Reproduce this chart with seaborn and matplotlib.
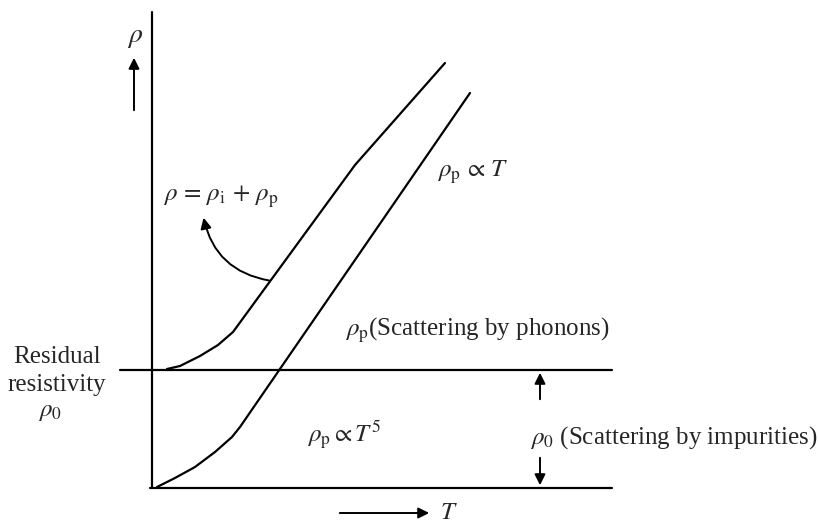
import pandas as pd
import seaborn as sns
import matplotlib.pyplot as plt

# resistivity vs temperature (arbitrary units)
T_total = [1.5, 2.8, 4.8, 6.6, 8.1, 20.3, 29.3]
rho_total = [11.9, 12.2, 13.2, 14.3, 15.6, 32.3, 42.5]

T_phonon = [0.5, 2.3, 4.3, 6.3, 8.0, 8.8, 31.8]
rho_phonon = [0.1, 1.0, 2.1, 3.6, 5.1, 6.1, 39.5]

rho0 = 11.8
T_max = 46.0
rho_top = 47.6

sns.set_style('white')
plt.rcParams['font.family'] = ['Liberation Serif', 'DejaVu Serif']
plt.rcParams['mathtext.fontset'] = 'stix'

fig = plt.figure(figsize=(8.18, 5.28), dpi=100)
ax = fig.add_axes([0, 0, 1, 1])

df_total = pd.DataFrame({'T': T_total, 'rho': rho_total})
df_phonon = pd.DataFrame({'T': T_phonon, 'rho': rho_phonon})
sns.lineplot(data=df_total, x='T', y='rho', sort=False, color='black', lw=1.6, ax=ax)
sns.lineplot(data=df_phonon, x='T', y='rho', sort=False, color='black', lw=1.6, ax=ax)

# axes and residual level
ax.plot([0, 0], [0, rho_top], color='black', lw=1.6)
ax.plot([-0.2, T_max], [0, 0], color='black', lw=1.6)
ax.plot([-3.2, T_max], [rho0, rho0], color='black', lw=1.6)

fs = 18
arrow = dict(arrowstyle='-|>', color='black', lw=1.4, mutation_scale=16)

# y axis label
ax.text(-1.7, 45.0, r'$\rho$', fontsize=20, ha='center', va='center')
ax.annotate('', xy=(-1.8, 43.3), xytext=(-1.8, 37.5), arrowprops=arrow)

# x axis label
ax.annotate('', xy=(28.0, -2.5), xytext=(18.5, -2.5), arrowprops=arrow)
ax.text(28.8, -2.5, r'$T$', fontsize=fs, ha='left', va='center')

# curve labels
ax.text(1.1, 29.1, r'$\rho\,=\,\rho_{\mathrm{i}}\,+\,\rho_{\mathrm{p}}$', fontsize=fs, ha='left', va='center')
ax.annotate('', xy=(5.1, 27.3), xytext=(12.0, 20.7),
            arrowprops=dict(arrowstyle='-|>', color='black', lw=1.4, mutation_scale=16,
                            connectionstyle='arc3,rad=-0.35'))
ax.text(28.5, 31.6, r'$\rho_{\mathrm{p}}\,\propto\,T$', fontsize=fs, ha='left', va='center')
ax.text(19.3, 15.8, r'$\rho_{\mathrm{p}}$(Scattering by phonons)', fontsize=fs, ha='left', va='center')
ax.text(15.5, 5.3, r'$\rho_{\mathrm{p}} \propto T^5$', fontsize=fs, ha='left', va='center')

# residual resistivity
ax.text(-9.5, 13.1, 'Residual', fontsize=fs, ha='center', va='center')
ax.text(-9.5, 10.3, 'resistivity', fontsize=fs, ha='center', va='center')
ax.text(-10.2, 7.6, r'$\rho_0$', fontsize=fs, ha='center', va='center')

ax.text(37.8, 5.0, r'$\rho_0$ (Scattering by impurities)', fontsize=fs, ha='left', va='center')
ax.annotate('', xy=(38.8, rho0), xytext=(38.8, 8.6), arrowprops=arrow)
ax.annotate('', xy=(38.8, 0), xytext=(38.8, 3.3), arrowprops=arrow)

ax.set_xlim(-15.2, 66.6)
ax.set_ylim(-4.0, 48.8)
ax.set_axis_off()

fig.savefig('out.png', dpi=100, facecolor='white')
